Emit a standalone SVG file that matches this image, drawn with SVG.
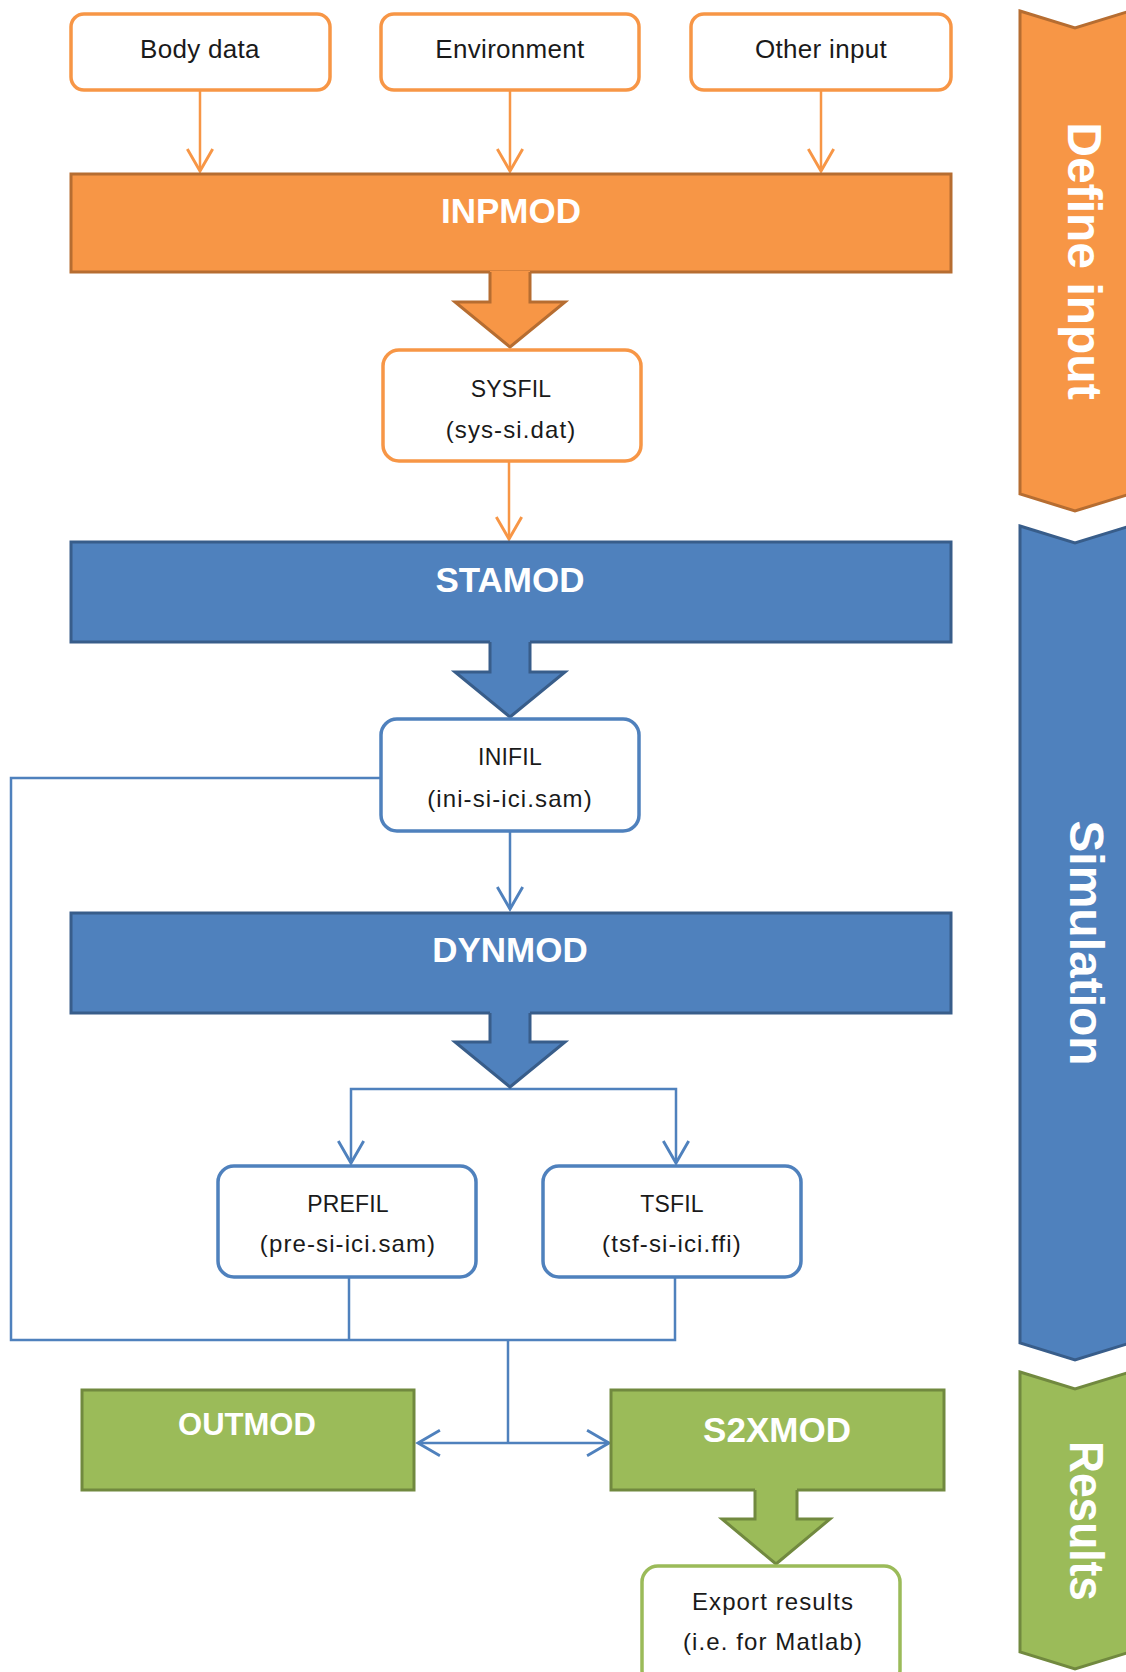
<svg xmlns="http://www.w3.org/2000/svg" width="1126" height="1672" viewBox="0 0 1126 1672">
<defs>
<style>
.box{fill:#fff;stroke-width:3.5}
.ob{stroke:#F79646}
.bb{stroke:#4F81BD}
.gb{stroke:#9BBB59}
.t{font-family:"Liberation Sans",Arial,sans-serif;font-size:26px;fill:#1a1a1a;text-anchor:middle;letter-spacing:0.3px}
.f{font-family:"Liberation Sans",Arial,sans-serif;font-size:24px;fill:#1a1a1a;text-anchor:middle;letter-spacing:1.1px}
.fc{font-family:"Liberation Sans",Arial,sans-serif;font-size:23px;fill:#1a1a1a;text-anchor:middle;letter-spacing:0.2px}
.h{font-family:"Liberation Sans",Arial,sans-serif;font-weight:bold;fill:#fff;text-anchor:middle}
.or{fill:#F79646;stroke:#B66D31;stroke-width:3}
.br{fill:#4F81BD;stroke:#385D8A;stroke-width:3}
.gr{fill:#9BBB59;stroke:#71893F;stroke-width:3}
.oc{fill:none;stroke:#F79646;stroke-width:2.5}
.bc{fill:none;stroke:#4F81BD;stroke-width:2.5}
.ch{font-family:"Liberation Sans",Arial,sans-serif;font-weight:bold;font-size:48px;fill:#fff;text-anchor:middle}
</style>
<marker id="ao" markerUnits="userSpaceOnUse" markerWidth="30" markerHeight="30" viewBox="-22 -13 26 26" refX="0" refY="0" orient="auto">
<path d="M-19,-11 L0,0 L-19,11" fill="none" stroke="#F79646" stroke-width="2.5"/>
</marker>
<marker id="ab" markerUnits="userSpaceOnUse" markerWidth="30" markerHeight="30" viewBox="-22 -13 26 26" refX="0" refY="0" orient="auto">
<path d="M-19,-11 L0,0 L-19,11" fill="none" stroke="#4F81BD" stroke-width="2.5"/>
</marker>
</defs>
<rect width="1126" height="1672" fill="#fff"/>

<g id="phase-define">
<path d="M1020,11 L1075,28 L1130,11 L1130,494 L1075,511 L1020,494 Z" class="or"/>
<text class="ch" transform="translate(1068,261) rotate(90)">Define input</text>
</g>
<g id="phase-simulation">
<path d="M1020,526 L1075,543 L1130,526 L1130,1343 L1075,1360 L1020,1343 Z" class="br"/>
<text class="ch" transform="translate(1070,943) rotate(90)">Simulation</text>
</g>
<g id="phase-results">
<path d="M1020,1372 L1075,1389 L1130,1372 L1130,1652 L1075,1669 L1020,1652 Z" class="gr"/>
<text class="ch" transform="translate(1070,1521) rotate(90)" textLength="160" lengthAdjust="spacingAndGlyphs">Results</text>
</g>

<g id="connectors">
<path d="M200,91 V171" class="oc" marker-end="url(#ao)"/>
<path d="M510,91 V171" class="oc" marker-end="url(#ao)"/>
<path d="M821,91 V171" class="oc" marker-end="url(#ao)"/>
<path d="M509,462 V539" class="oc" marker-end="url(#ao)"/>
<path d="M510,832 V909" class="bc" marker-end="url(#ab)"/>
<path d="M380,778 H11 V1340 H675 V1277" class="bc"/>
<path d="M349,1277 V1340" class="bc"/>
<path d="M510,1089 H351 V1163" class="bc" marker-end="url(#ab)"/>
<path d="M510,1089 H676 V1163" class="bc" marker-end="url(#ab)"/>
<path d="M508,1340 V1443" class="bc"/>
<path d="M508,1443 H418" class="bc" marker-end="url(#ab)"/>
<path d="M508,1443 H609" class="bc" marker-end="url(#ab)"/>
</g>

<g id="body-data">
<rect x="71" y="14" width="259" height="76" rx="13" class="box ob"/>
<text x="200" y="58" class="t">Body data</text>
</g>
<g id="environment">
<rect x="381" y="14" width="258" height="76" rx="13" class="box ob"/>
<text x="510" y="58" class="t">Environment</text>
</g>
<g id="other-input">
<rect x="691" y="14" width="260" height="76" rx="13" class="box ob"/>
<text x="821" y="58" class="t">Other input</text>
</g>

<g id="inpmod">
<rect x="71" y="174" width="880" height="98" class="or"/>
<text x="511" y="223" class="h" font-size="35">INPMOD</text>
<polygon points="490,271 530,271 530,302 565,302 510,347 455,302 490,302" fill="#F79646"/>
<polyline points="490,272 490,302 455,302 510,347 565,302 530,302 530,272" fill="none" stroke="#B66D31" stroke-width="3" stroke-linejoin="miter"/>
</g>

<g id="sysfil">
<rect x="383" y="350" width="258" height="111" rx="16" class="box ob"/>
<text x="511" y="397" class="fc">SYSFIL</text>
<text x="511" y="438" class="f">(sys-si.dat)</text>
</g>

<g id="stamod">
<rect x="71" y="542" width="880" height="100" class="br"/>
<text x="510" y="592" class="h" font-size="35">STAMOD</text>
<polygon points="490,640 530,640 530,672 565,672 510,717 455,672 490,672" fill="#4F81BD"/>
<polyline points="490,642 490,672 455,672 510,717 565,672 530,672 530,642" fill="none" stroke="#385D8A" stroke-width="3"/>
</g>

<g id="inifil">
<rect x="381" y="719" width="258" height="112" rx="16" class="box bb"/>
<text x="510" y="765" class="fc">INIFIL</text>
<text x="510" y="807" class="f">(ini-si-ici.sam)</text>
</g>

<g id="dynmod">
<rect x="71" y="913" width="880" height="100" class="br"/>
<text x="510" y="962" class="h" font-size="35">DYNMOD</text>
<polygon points="490,1011 530,1011 530,1042 565,1042 510,1087 455,1042 490,1042" fill="#4F81BD"/>
<polyline points="490,1013 490,1042 455,1042 510,1087 565,1042 530,1042 530,1013" fill="none" stroke="#385D8A" stroke-width="3"/>
</g>

<g id="prefil">
<rect x="218" y="1166" width="258" height="111" rx="16" class="box bb"/>
<text x="348" y="1212" class="fc">PREFIL</text>
<text x="348" y="1252" class="f">(pre-si-ici.sam)</text>
</g>

<g id="tsfil">
<rect x="543" y="1166" width="258" height="111" rx="16" class="box bb"/>
<text x="672" y="1212" class="fc">TSFIL</text>
<text x="672" y="1252" class="f">(tsf-si-ici.ffi)</text>
</g>

<g id="outmod">
<rect x="82" y="1390" width="332" height="100" class="gr"/>
<text x="247" y="1435" class="h" font-size="31">OUTMOD</text>
</g>

<g id="s2xmod">
<rect x="611" y="1390" width="333" height="100" class="gr"/>
<text x="777" y="1442" class="h" font-size="35">S2XMOD</text>
<polygon points="755,1488 797,1488 797,1519 830,1519 776,1564 722,1519 755,1519" fill="#9BBB59"/>
<polyline points="755,1490 755,1519 722,1519 776,1564 830,1519 797,1519 797,1490" fill="none" stroke="#71893F" stroke-width="3"/>
</g>

<g id="export-results">
<rect x="642" y="1566" width="258" height="120" rx="16" class="box gb"/>
<text x="773" y="1610" class="f">Export results</text>
<text x="773" y="1650" class="f">(i.e. for Matlab)</text>
</g>
</svg>
